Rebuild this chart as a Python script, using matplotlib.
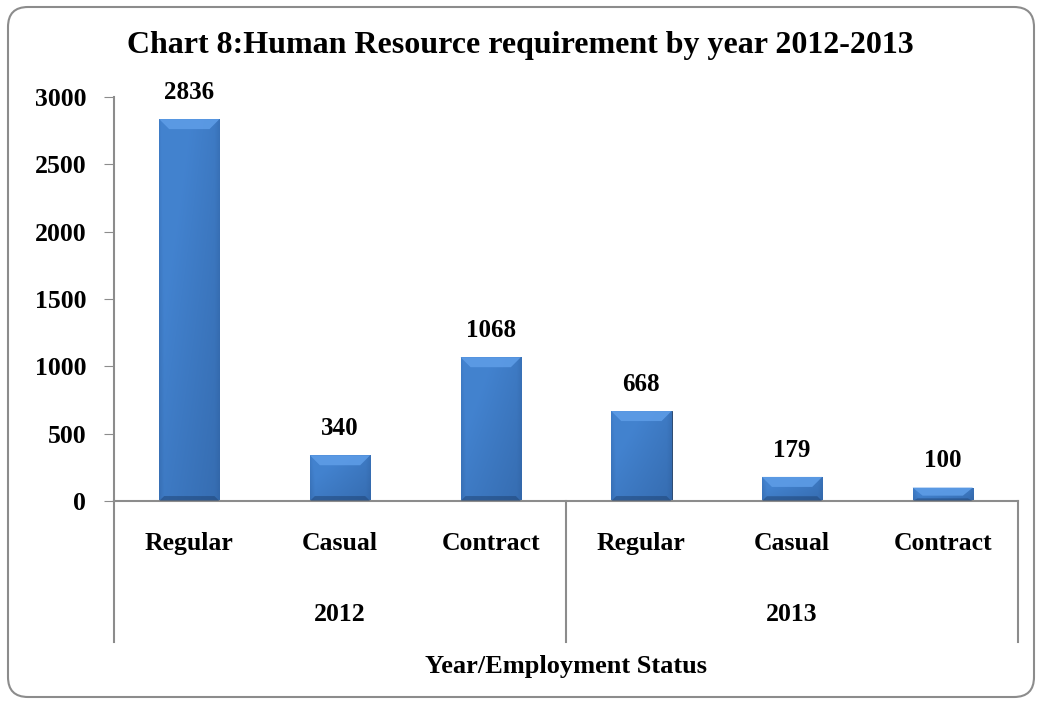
import numpy as np
import matplotlib
matplotlib.use("Agg")
import matplotlib.pyplot as plt
from matplotlib.patches import FancyBboxPatch, Polygon
from matplotlib.transforms import IdentityTransform

# Daten
status = ["Regular", "Casual", "Contract", "Regular", "Casual", "Contract"]
years = ["2012", "2013"]
werte = [2836, 340, 1068, 668, 179, 100]

plt.rcParams["font.family"] = ["Liberation Serif", "DejaVu Serif"]
plt.rcParams["font.weight"] = "bold"

fig = plt.figure(figsize=(10.41, 7.03), dpi=100)
ax = fig.add_axes([0.1095, 0.2873, 0.8685, 0.5747])

x = np.arange(len(werte))
breite = 0.40
ax.set_xlim(-0.5, 5.5)
ax.set_ylim(0, 3000)

# Balken mit Verlauf (Bevel-Look)
px_y = 3000 / 404.0   # Dateneinheiten pro Pixel (y)
px_x = 6 / 904.0      # Dateneinheiten pro Pixel (x)
dunkel = np.array([0.11, 0.25, 0.45])
hell = np.array([0.26, 0.51, 0.81])
nx, ny = 60, 100
xs = np.linspace(0, 1, nx)
ys = np.linspace(0, 1, ny)
# horizontal: links heller, rechts dunkler, Raender dunkel
fx = 1 - 0.55 * xs
kante = np.minimum(xs, 1 - xs)
fx = fx * (0.55 + 0.45 * np.clip(kante / 0.08, 0, 1))
fy = 0.78 + 0.22 * ys  # oben heller
f = np.clip(fy[:, None] * (0.55 + 0.45 * fx[None, :]) * 1.15, 0, 1)
img = dunkel[None, None, :] + (hell - dunkel)[None, None, :] * f[:, :, None]

bars = ax.bar(x, werte, width=breite, color="#3569b0", edgecolor="#1c3a60",
              linewidth=0.6, zorder=2)
for b, w in zip(bars, werte):
    x0 = b.get_x()
    x1 = x0 + b.get_width()
    im = ax.imshow(img, extent=[x0, x1, 0, w], origin="lower", aspect="auto",
                   zorder=2.5, interpolation="bilinear")
    im.set_clip_path(b)
    # obere Abschraegung
    h = min(10 * px_y, w * 0.6)
    ins = 10 * px_x
    ax.add_patch(Polygon([(x0, w), (x1, w), (x1 - ins, w - h), (x0 + ins, w - h)],
                         closed=True, facecolor="#5d9ce6", edgecolor="none",
                         alpha=0.9, zorder=3))
    # untere Abschraegung (dunkler)
    hb = min(5 * px_y, w * 0.2)
    ax.add_patch(Polygon([(x0, 0), (x1, 0), (x1 - ins * 0.5, hb), (x0 + ins * 0.5, hb)],
                         closed=True, facecolor="#1e4272", edgecolor="none",
                         alpha=0.5, zorder=3))
    ax.annotate(str(w), (b.get_x() + b.get_width() / 2, w), xytext=(0, 11),
                textcoords="offset points", ha="center", va="bottom",
                fontsize=18, fontweight="bold")
ax.set_xlim(-0.5, 5.5)
ax.set_ylim(0, 3000)

ax.set_yticks([0, 500, 1000, 1500, 2000, 2500, 3000])
ax.tick_params(axis="y", direction="out", length=7, color="#8c8c8c",
               labelsize=18.5, pad=13)
ax.set_xticks([])
for s in ["top", "right"]:
    ax.spines[s].set_visible(False)
for s in ["left", "bottom"]:
    ax.spines[s].set_color("#8c8c8c")
    ax.spines[s].set_linewidth(1.5)
ax.spines["left"].set_zorder(4)

# Kategorien und Jahre
trans = ax.get_xaxis_transform()
for i, s in enumerate(status):
    ax.text(i, -0.104, s, transform=trans, ha="center", va="center",
            fontsize=18.5, fontweight="bold")
for j, y in enumerate(years):
    ax.text(1 + 3 * j, -0.282, y, transform=trans, ha="center", va="center",
            fontsize=18.5, fontweight="bold")
for xv in [-0.5, 2.5, 5.5]:
    ax.plot([xv, xv], [0, -0.35], transform=trans, color="#8c8c8c",
            linewidth=1.5, clip_on=False)

fig.text(0.5, 1 - 45 / 703.0, "Chart 8:Human Resource requirement by year 2012-2013",
         ha="center", va="center", fontsize=23, fontweight="bold")
fig.text(0.544, 1 - 667 / 703.0, "Year/Employment Status", ha="center",
         va="center", fontsize=19, fontweight="bold")

rahmen = FancyBboxPatch((8, 6), 1026, 690, boxstyle="round,pad=0,rounding_size=20",
                        transform=IdentityTransform(), facecolor="none",
                        edgecolor="#8c8c8c", linewidth=1.5)
fig.add_artist(rahmen)

fig.savefig("out.png", dpi=100)
